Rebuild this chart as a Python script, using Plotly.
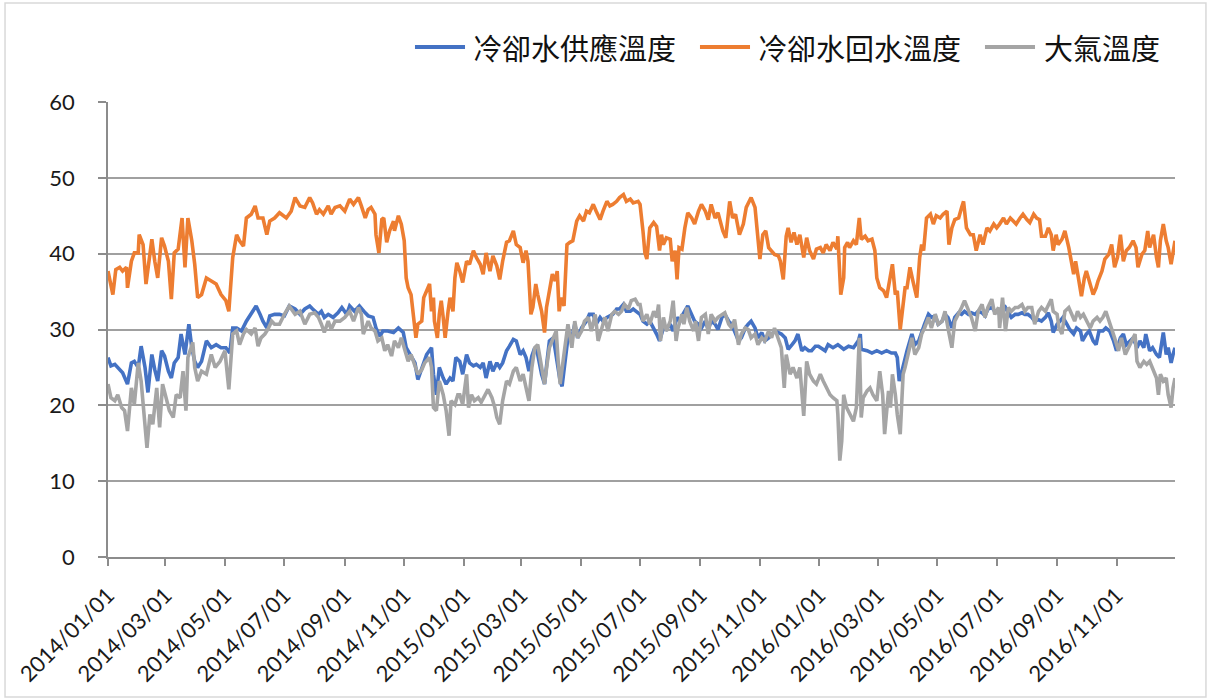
import pandas as pd
import plotly.graph_objects as go

START = pd.Timestamp("2014-01-01")

# 冷卻水供應溫度 (day offset from 2014/01/01, °C)
supply_day = [0, 3, 7, 10, 15, 20, 24, 27, 31, 34, 38, 41, 45, 48, 51, 55, 58, 62, 65, 68, 72, 75, 79, 83, 86, 89, 92, 96, 101, 106, 111, 116, 121, 125, 128, 132, 137, 142, 147, 152, 156, 159, 163, 166, 171,
              176, 181, 186, 192, 197, 202, 207, 210, 216, 219, 222, 226, 231, 236, 240, 245, 248, 253, 258, 264, 267, 272, 275, 279, 282, 287, 293, 298, 303, 306, 310, 315, 318, 322, 327, 332, 334, 337, 340, 344, 347, 351, 354, 357,
              361, 364, 368, 371, 375, 378, 382, 385, 388, 392, 395, 399, 402, 405, 409, 412, 416, 419, 423, 426, 429, 432, 435, 438, 441, 445, 448, 451, 453, 457, 460, 464, 466, 469, 472, 476, 479, 482, 486, 491, 494, 498, 501, 505, 508, 512, 515, 518, 522, 525, 529, 532, 536, 539, 542,
              546, 549, 553, 556, 560, 563, 566, 570, 573, 577, 580, 584, 587, 590, 595, 599, 602, 606, 609, 613, 616, 619, 623, 626, 630, 633, 637, 640, 643, 647, 650, 654, 657, 660, 664, 667, 671, 674, 678, 681, 684, 688, 691, 695, 698, 702, 705, 708, 712, 715, 719, 722, 726, 729,
              731, 736, 739, 744, 749, 755, 760, 765, 770, 772, 773, 779, 784, 789, 794, 799, 804, 808, 810, 812, 814, 817, 820, 825, 828, 832, 835, 838, 842, 845, 849, 852, 856, 859, 862, 866, 869, 873, 876, 879, 883, 886, 890, 893, 897, 900, 903, 907, 910, 914,
              915, 921, 924, 927, 931, 934, 938, 941, 944, 948, 951, 955, 958, 962, 965, 968, 970, 974, 977, 980, 984, 987, 991, 994, 998, 1000, 1004, 1007, 1011, 1014, 1017, 1021, 1024, 1028, 1032, 1035, 1039, 1042, 1045, 1049, 1052, 1056, 1059, 1063, 1065, 1069, 1072, 1076, 1079, 1083, 1086, 1088, 1091, 1093, 1095]
supply_temp = [26.3, 25.2, 25.4, 25.0, 24.3, 22.8, 25.6, 25.8, 25.0, 27.8, 25.0, 21.7, 26.7, 24.7, 23.2, 27.2, 26.5, 24.5, 23.6, 25.6, 26.3, 29.4, 26.7, 30.7, 27.6, 25.8, 25.0, 25.8, 28.5, 27.6, 28.0, 27.6, 27.6, 26.9, 30.2, 30.2, 29.8, 31.1, 32.0, 33.1, 32.0, 31.1, 30.2, 31.8, 32.0,
               32.0, 31.8, 33.1, 32.7, 32.0, 32.7, 33.1, 32.7, 32.0, 32.4, 31.6, 32.0, 31.6, 32.2, 32.9, 32.0, 33.1, 32.4, 33.1, 32.2, 31.8, 31.6, 30.2, 29.1, 29.8, 29.8, 29.6, 30.2, 29.6, 27.6, 26.7, 25.6, 23.4, 25.0, 26.7, 27.6, 24.1, 21.4, 25.0, 23.6, 22.8, 23.6, 23.2, 26.3,
               25.8, 24.1, 26.7, 25.6, 25.2, 25.4, 25.0, 25.6, 23.6, 25.8, 24.5, 25.6, 25.0, 25.6, 27.2, 27.8, 28.7, 28.5, 26.7, 27.2, 26.3, 24.5, 26.5, 27.6, 26.7, 24.1, 22.8, 26.3, 28.5, 28.9, 26.3, 23.2, 22.5, 25.8, 28.9, 28.9, 30.7, 28.9, 30.2, 31.1, 32.0, 32.0, 30.7, 31.6, 31.1, 31.6, 31.8, 32.0, 32.7, 32.7, 33.3, 32.4, 32.4, 32.7, 32.4,
               32.0, 31.1, 30.7, 31.1, 30.2, 29.4, 28.5, 30.2, 30.0, 30.7, 29.8, 31.6, 31.1, 32.0, 33.1, 32.0, 31.1, 30.7, 30.2, 31.1, 30.0, 31.1, 30.7, 30.0, 31.6, 32.0, 31.1, 30.7, 29.8, 28.5, 28.9, 30.2, 30.7, 31.1, 30.2, 28.9, 29.6, 28.5, 28.9, 29.4, 29.8, 29.6, 29.4, 28.9, 27.4, 28.0, 28.5, 29.4, 27.2, 27.6, 27.2, 27.2, 27.8, 27.8,
               27.6, 27.2, 28.0, 27.6, 28.0, 27.4, 27.8, 27.6, 28.5, 29.4, 27.4, 27.2, 26.9, 27.2, 26.9, 27.2, 26.9, 26.9, 26.3, 23.2, 24.1, 25.8, 27.2, 29.4, 28.0, 28.5, 29.8, 30.7, 32.0, 31.6, 31.8, 30.7, 31.1, 32.0, 31.6, 30.2, 31.6, 32.2, 32.0, 32.4, 32.0, 32.2, 32.0, 32.4, 32.2, 31.8, 32.7, 32.9, 32.4, 32.2,
               32.0, 32.9, 32.2, 31.6, 32.0, 32.0, 32.2, 32.0, 32.0, 31.6, 31.1, 31.3, 31.1, 31.6, 32.2, 31.1, 29.6, 30.7, 31.1, 31.6, 30.7, 30.0, 29.4, 30.2, 29.8, 28.5, 29.4, 29.8, 28.5, 28.0, 29.8, 29.8, 30.2, 29.8, 28.5, 27.2, 28.9, 29.4, 28.0, 28.5, 28.9, 27.6, 28.5, 27.6, 29.4, 27.2, 27.6, 26.7, 26.3, 29.6, 26.7, 27.6, 25.6, 26.7, 27.6]

# 冷卻水回水溫度
return_day = [0, 5, 8, 12, 15, 19, 20, 24, 27, 31, 32, 36, 39, 43, 45, 48, 51, 55, 58, 62, 65, 68, 72, 76, 79, 82, 86, 89, 92, 96, 101, 106, 111, 116, 121, 124, 128, 132, 135, 139, 142, 147, 151, 154, 159, 163, 166, 171,
              176, 183, 188, 192, 197, 202, 207, 210, 214, 217, 221, 226, 229, 233, 238, 243, 248, 252, 257, 260, 264, 267, 270, 274, 275, 278, 281, 283, 286, 289, 293, 294, 298, 301, 304, 306, 308, 311, 313, 316, 318, 322, 324, 327, 330, 332, 334, 335, 338, 340, 342, 344, 346, 349, 351, 354, 356, 358,
              361, 364, 368, 371, 375, 378, 382, 385, 388, 392, 395, 399, 402, 405, 409, 412, 416, 419, 423, 426, 429, 431, 434, 436, 439, 441, 445, 448, 450, 453, 456, 459, 461, 463, 465, 468, 471, 474, 477, 481, 484, 488, 491, 494, 498, 501, 505, 508, 512, 515, 518, 522, 525, 529, 532, 536, 539, 544,
              546, 549, 551, 553, 556, 560, 563, 566, 568, 570, 573, 577, 579, 582, 584, 586, 589, 592, 595, 599, 602, 606, 609, 613, 616, 619, 623, 626, 631, 634, 638, 641, 644, 648, 652, 655, 660, 664, 666, 669, 672, 675, 678, 681, 684, 688, 690, 693, 696, 698, 701, 704, 707, 710, 714, 717, 720, 724, 727,
              731, 734, 737, 741, 744, 748, 749, 751, 752, 755, 756, 759, 761, 765, 768, 771, 773, 777, 780, 784, 787, 789, 792, 796, 799, 802, 805, 808, 810, 813, 816, 818, 820, 823, 826, 830, 833, 835, 837, 840, 844, 847, 850, 854, 857, 861, 863, 866, 869, 873, 876, 878, 881, 885, 888, 891, 895, 898, 902, 905, 909, 912,
              915, 919, 922, 926, 929, 932, 936, 939, 943, 946, 950, 953, 956, 958, 962, 965, 968, 970, 973, 975, 979, 982, 986, 988, 991, 993, 996, 999, 1002, 1004, 1007, 1011, 1014, 1016, 1020, 1023, 1027, 1030, 1033, 1036, 1039, 1042, 1045, 1048, 1052, 1055, 1057, 1061, 1064, 1067, 1069, 1073, 1076, 1078, 1080, 1083, 1086, 1088, 1091, 1093, 1095]
return_temp = [37.7, 34.6, 37.9, 38.2, 37.7, 38.2, 35.5, 39.0, 40.1, 40.1, 42.5, 41.2, 36.0, 39.5, 41.9, 39.0, 36.8, 42.1, 41.0, 39.0, 34.0, 40.1, 40.6, 44.7, 38.2, 44.7, 41.7, 38.6, 34.2, 34.6, 36.8, 36.4, 36.0, 34.6, 33.8, 32.4, 39.5, 42.5, 41.7, 41.0, 44.7, 45.2, 46.3, 44.7, 44.7, 42.5, 44.3, 44.7,
               45.4, 44.7, 45.6, 47.4, 46.3, 46.1, 47.4, 46.7, 45.2, 45.8, 45.2, 46.3, 45.2, 46.1, 46.3, 45.6, 47.2, 46.5, 47.4, 46.3, 44.7, 45.8, 46.1, 45.2, 42.5, 40.1, 44.5, 44.7, 41.5, 43.0, 44.3, 43.0, 45.0, 43.9, 41.7, 36.8, 35.5, 34.6, 32.0, 28.9, 30.7, 31.1, 34.2, 35.1, 36.0, 32.4, 34.2, 31.1, 28.9, 32.0, 33.8, 31.6, 28.9, 32.4, 34.2, 32.4, 36.8, 38.8,
               37.7, 36.2, 39.0, 38.6, 40.4, 39.5, 38.6, 37.3, 40.1, 37.7, 39.7, 38.4, 36.6, 39.0, 41.5, 41.7, 43.0, 41.2, 40.8, 38.8, 40.4, 39.0, 32.0, 32.9, 36.0, 34.6, 32.4, 29.6, 32.9, 35.1, 37.3, 36.4, 37.7, 32.4, 34.2, 33.1, 41.2, 41.5, 41.7, 44.3, 45.0, 44.3, 45.6, 45.4, 46.5, 45.6, 44.5, 45.6, 46.9, 46.3, 46.5, 46.9, 47.4, 47.8, 46.9, 47.2, 46.7, 46.9,
               46.5, 43.0, 40.1, 39.3, 43.4, 44.1, 43.6, 40.4, 42.5, 41.2, 42.1, 41.9, 39.0, 40.4, 36.6, 40.8, 40.6, 43.4, 45.4, 44.7, 43.9, 45.6, 46.5, 45.6, 44.5, 46.5, 44.7, 45.4, 43.0, 42.1, 46.9, 44.7, 45.2, 42.5, 43.9, 46.1, 47.4, 46.1, 43.0, 39.3, 42.5, 43.0, 40.8, 40.4, 39.9, 39.7, 39.0, 36.6, 42.3, 43.4, 41.5, 42.8, 41.2, 42.5, 39.5, 42.1, 40.4, 39.3, 40.6,
               40.8, 40.1, 41.2, 40.4, 41.5, 40.6, 42.3, 37.3, 34.6, 36.8, 40.8, 41.5, 40.8, 41.7, 41.2, 44.7, 41.9, 42.3, 41.7, 41.9, 40.4, 36.8, 35.5, 35.1, 34.2, 36.4, 38.6, 34.6, 35.1, 30.0, 32.9, 35.5, 35.5, 38.2, 36.4, 34.2, 39.5, 41.2, 40.4, 44.7, 45.2, 43.9, 45.0, 44.7, 45.2, 45.6, 41.2, 43.4, 44.5, 44.7, 46.1, 46.9, 43.4, 42.5, 42.5, 40.4, 42.5, 41.2, 43.4, 43.0, 43.9, 43.4,
               43.9, 44.7, 43.9, 44.7, 44.3, 43.9, 44.7, 45.2, 44.5, 44.1, 45.2, 44.7, 44.5, 42.3, 42.3, 43.4, 42.5, 40.4, 42.5, 41.2, 41.9, 43.0, 40.8, 39.5, 37.3, 39.0, 36.4, 34.4, 36.8, 37.7, 36.4, 34.6, 35.5, 36.4, 37.7, 39.3, 39.9, 41.2, 38.2, 39.5, 42.5, 39.0, 40.4, 40.8, 41.7, 40.8, 38.2, 39.9, 40.4, 43.0, 40.8, 42.5, 39.5, 38.2, 41.7, 43.9, 41.7, 40.8, 38.6, 39.9, 41.7]

# 大氣溫度
air_day = [0, 3, 7, 10, 14, 17, 20, 24, 27, 31, 34, 38, 40, 43, 46, 50, 53, 56, 60, 63, 67, 70, 74, 77, 80, 82, 87, 89, 92, 96, 101, 106, 110, 115, 120, 124, 128, 132, 135, 139, 142, 147, 151, 154, 157, 161, 164, 168, 171,
           176, 181, 186, 192, 197, 202, 207, 212, 216, 219, 222, 226, 229, 233, 238, 243, 248, 252, 257, 260, 262, 267, 270, 274, 277, 281, 284, 287, 291, 294, 298, 301, 305, 308, 311, 315, 318, 322, 325, 330, 332, 334, 337, 340, 344, 347, 350, 352, 356, 359,
           361, 364, 368, 370, 373, 376, 380, 383, 387, 390, 394, 397, 399, 402, 405, 409, 412, 416, 419, 423, 426, 429, 432, 435, 438, 441, 445, 448, 451, 453, 457, 460, 462, 464, 467, 470, 472, 476, 479, 482, 486, 489, 493, 496, 500, 503, 506, 510, 513, 517, 520, 524, 527, 530, 534, 537, 541, 544,
           546, 549, 553, 556, 560, 563, 565, 567, 570, 573, 577, 580, 583, 585, 589, 591, 594, 597, 601, 603, 606, 609, 613, 616, 619, 623, 626, 630, 633, 637, 640, 643, 647, 650, 654, 657, 660, 664, 667, 671, 674, 678, 681, 684, 688, 691, 694, 696, 700, 703, 707, 710, 714, 717, 720, 724, 727,
           731, 734, 737, 741, 744, 748, 749, 751, 753, 755, 758, 761, 765, 768, 771, 773, 775, 779, 782, 785, 789, 792, 795, 797, 801, 803, 805, 808, 810, 813, 816, 818, 821, 825, 828, 832, 835, 838, 842, 845, 849, 852, 856, 859, 862, 866, 869, 873, 876, 879, 883, 886, 890, 893, 897, 900, 903, 907, 910, 914,
           915, 918, 921, 924, 927, 931, 934, 938, 941, 944, 948, 951, 955, 958, 962, 965, 968, 970, 974, 976, 979, 982, 986, 989, 992, 995, 998, 1001, 1004, 1008, 1011, 1015, 1018, 1021, 1024, 1027, 1030, 1033, 1037, 1040, 1044, 1047, 1051, 1054, 1056, 1059, 1063, 1066, 1069, 1073, 1076, 1078, 1080, 1083, 1086, 1088, 1091, 1093, 1095]
air_temp = [22.8, 21.0, 20.6, 21.4, 19.7, 19.3, 16.6, 22.3, 20.1, 25.6, 23.2, 17.9, 14.4, 18.8, 17.5, 22.3, 17.1, 22.8, 21.0, 19.3, 18.4, 21.4, 21.0, 24.5, 19.3, 26.3, 28.3, 25.0, 23.2, 24.5, 24.1, 26.7, 25.0, 25.8, 27.2, 22.1, 29.4, 29.8, 28.0, 29.4, 30.0, 29.4, 30.2, 27.8, 28.9, 29.4, 30.0, 31.1, 30.7,
            30.7, 32.0, 33.1, 32.0, 32.4, 30.7, 32.0, 32.2, 31.6, 30.7, 29.6, 31.1, 30.0, 31.1, 31.1, 31.6, 32.4, 31.1, 32.9, 32.0, 29.4, 31.1, 30.2, 29.8, 28.5, 28.9, 27.2, 28.0, 26.5, 28.5, 27.6, 28.9, 27.2, 25.8, 26.7, 25.0, 24.1, 24.7, 25.6, 26.3, 25.0, 19.7, 19.3, 23.2, 21.4, 19.3, 16.0, 20.6, 20.1, 21.4,
            21.4, 20.1, 24.1, 19.7, 21.4, 20.6, 21.0, 20.4, 21.4, 22.1, 21.0, 19.7, 18.4, 17.5, 20.6, 23.2, 22.8, 24.5, 25.0, 23.2, 24.1, 22.3, 20.6, 25.0, 27.6, 28.0, 25.0, 22.8, 25.8, 27.6, 28.9, 29.8, 25.8, 22.8, 25.8, 29.4, 30.7, 27.6, 31.1, 28.9, 29.8, 31.1, 31.6, 29.8, 32.0, 28.5, 29.8, 31.6, 29.8, 32.0, 32.4, 32.0, 32.4, 33.3, 32.7, 33.8, 34.0, 33.3,
            33.3, 31.1, 32.0, 30.7, 32.4, 31.6, 33.3, 28.5, 31.6, 29.8, 31.1, 33.8, 28.5, 30.2, 32.0, 30.7, 32.9, 31.1, 29.8, 31.1, 28.5, 31.6, 32.0, 29.4, 32.0, 31.1, 31.6, 32.0, 32.2, 30.7, 30.2, 31.3, 28.0, 29.4, 30.2, 30.0, 28.9, 29.4, 28.0, 28.9, 28.5, 29.8, 28.9, 30.2, 28.5, 27.6, 22.3, 26.7, 24.1, 25.0, 23.6, 25.0, 18.6, 25.8, 24.1, 23.2, 22.8,
            24.1, 23.2, 22.3, 21.4, 21.0, 20.6, 18.8, 12.7, 15.3, 21.4, 19.7, 18.8, 17.9, 19.7, 28.9, 18.4, 21.0, 21.9, 22.3, 21.4, 20.6, 24.5, 21.4, 16.2, 21.9, 19.7, 24.1, 21.4, 18.8, 16.2, 24.1, 25.0, 26.7, 28.9, 26.7, 27.6, 29.4, 30.2, 31.6, 30.2, 32.0, 30.7, 31.1, 32.4, 30.2, 27.6, 31.1, 32.0, 32.9, 33.8, 32.4, 31.6, 29.8, 32.4, 33.3, 31.6, 32.9, 34.0, 32.0, 32.9,
            30.2, 34.2, 29.8, 32.9, 32.4, 32.9, 32.9, 33.3, 32.4, 32.9, 32.9, 30.7, 32.4, 32.9, 32.4, 33.3, 34.0, 32.4, 32.0, 30.2, 29.4, 32.4, 32.9, 32.0, 31.1, 32.4, 31.6, 32.0, 31.1, 30.2, 31.1, 31.6, 31.1, 31.6, 32.4, 31.1, 30.2, 28.9, 27.2, 28.9, 26.7, 27.6, 28.5, 29.4, 25.8, 25.0, 25.8, 25.4, 25.8, 24.5, 23.6, 21.4, 24.1, 23.2, 23.6, 21.4, 19.7, 22.3, 23.6]


def to_dates(days):
    return START + pd.to_timedelta(days, unit="D")


series = [
    ("冷卻水供應溫度", supply_day, supply_temp, "#4472C4"),
    ("冷卻水回水溫度", return_day, return_temp, "#ED7D31"),
    ("大氣溫度", air_day, air_temp, "#A5A5A5"),
]

fig = go.Figure()
for name, days, temps, color in series:
    fig.add_trace(go.Scatter(
        x=to_dates(days), y=temps, name=name, mode="lines",
        line=dict(color=color, width=3.6), showlegend=False,
    ))

# Legend drawn as line samples plus text labels along the top
legend_font = dict(family="'Noto Sans CJK TC', sans-serif", size=29, color="#111111")
legend_y = 1.121
legend_items = [(0.2877, 0.3346, 0.3402), (0.5548, 0.6017, 0.6073), (0.8219, 0.8688, 0.8753)]
shapes = []
annotations = []
for (name, _, _, color), (lx0, lx1, tx) in zip(series, legend_items):
    shapes.append(dict(type="line", xref="paper", yref="paper",
                       x0=lx0, x1=lx1, y0=legend_y, y1=legend_y,
                       line=dict(color=color, width=4)))
    annotations.append(dict(text=name, xref="paper", yref="paper",
                            x=tx, y=legend_y, xanchor="left", yanchor="middle",
                            showarrow=False, font=legend_font))

# light frame around the whole chart
shapes.append(dict(type="rect", xref="paper", yref="paper",
                   x0=-0.0965, x1=1.029, y0=-0.3077, y1=1.2176,
                   line=dict(color="#d9d9d9", width=1.5), fillcolor="rgba(0,0,0,0)"))

tick_font = dict(family="Lato, 'Liberation Sans', sans-serif", size=22, color="#1a1a1a")

fig.update_layout(
    width=1212, height=699,
    margin=dict(l=108, r=37, t=102, b=142),
    paper_bgcolor="white", plot_bgcolor="white",
    showlegend=False,
    xaxis=dict(
        type="date", range=["2014-01-01", "2016-12-31"],
        tick0="2014-01-01", dtick="M2", tickformat="%Y/%m/%d",
        tickangle=-45, tickfont=tick_font, ticklabelstandoff=8,
        showgrid=False, showline=True, linecolor="#8c8c8c", linewidth=1.8,
        ticks="outside", ticklen=7, tickcolor="#8c8c8c", tickwidth=1.8,
        zeroline=False,
    ),
    yaxis=dict(
        range=[0, 60], dtick=10, tickfont=tick_font, ticklabelstandoff=19,
        showgrid=True, gridcolor="#a0a0a0", gridwidth=1.6,
        showline=True, linecolor="#8c8c8c", linewidth=1.8,
        ticks="outside", ticklen=8, tickcolor="#8c8c8c", tickwidth=1.8,
        zeroline=False,
    ),
    shapes=shapes,
    annotations=annotations,
)

fig.write_html("out.html", config={"displayModeBar": False})
